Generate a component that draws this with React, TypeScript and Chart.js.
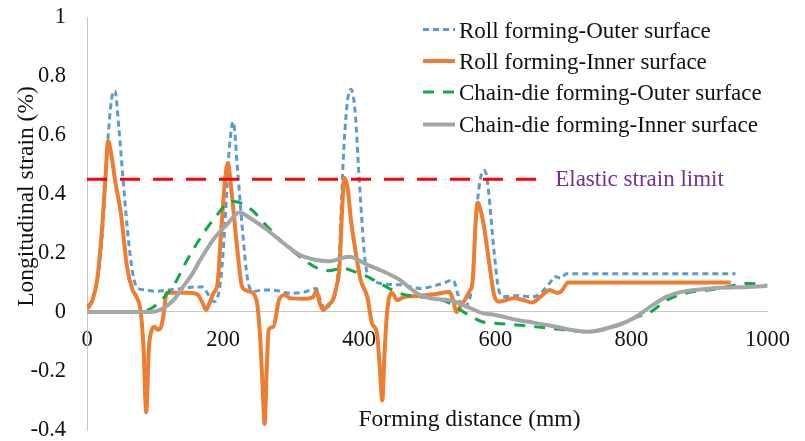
import React, { useEffect, useRef } from "react";
import { Chart, registerables } from "chart.js";

Chart.register(...registerables);

// ---------- data ----------
const seriesNames = [
  "Roll forming-Outer surface",
  "Roll forming-Inner surface",
  "Chain-die forming-Outer surface",
  "Chain-die forming-Inner surface",
];

const rollOuterX = [0, 8, 13, 18, 23, 30, 36, 41, 47, 53, 62, 69, 75, 85, 100, 120, 140, 160, 170, 178, 187, 192, 197, 202, 209, 215, 221, 228, 236, 245, 260, 280, 300, 320, 337, 343, 350, 358, 366, 371, 376, 382, 388, 394, 400, 410, 419, 436, 460, 490, 520, 538, 545, 552, 560, 566, 572, 580, 584, 588, 598, 605, 613, 630, 656, 680, 687, 697, 704, 953];
const rollOuterY = [0.02, 0.04, 0.085, 0.15, 0.28, 0.56, 0.72, 0.75, 0.62, 0.45, 0.22, 0.11, 0.08, 0.075, 0.07, 0.075, 0.08, 0.085, 0.085, 0.06, 0.035, 0.05, 0.12, 0.27, 0.55, 0.645, 0.49, 0.29, 0.11, 0.07, 0.075, 0.072, 0.063, 0.068, 0.08, 0.04, 0.008, 0.03, 0.075, 0.2, 0.49, 0.7, 0.755, 0.68, 0.45, 0.15, 0.11, 0.095, 0.092, 0.08, 0.095, 0.108, 0.06, 0.015, 0.03, 0.1, 0.33, 0.47, 0.48, 0.45, 0.21, 0.075, 0.052, 0.055, 0.052, 0.098, 0.12, 0.115, 0.13, 0.13];

const rollInnerX = [0, 8, 15, 22, 27, 31, 36, 41, 50, 59, 67, 73, 79, 83, 87, 91, 94, 99, 104, 109, 113, 117, 130, 150, 162, 170, 175, 180, 186, 192, 197, 203, 207, 211, 221, 228, 238, 249, 254, 258, 261, 264, 267, 274, 282, 291, 298, 320, 332, 337, 342, 347, 355, 361, 367, 371, 375, 378, 383, 388, 395, 402, 412, 419, 426, 430, 434, 437, 441, 448, 456, 465, 490, 510, 533, 538, 543, 549, 555, 562, 567, 571, 574, 579, 584, 592, 598, 605, 615, 627, 642, 654, 668, 680, 690, 697, 707, 946];
const rollInnerY = [0.01, 0.04, 0.11, 0.28, 0.45, 0.58, 0.53, 0.45, 0.33, 0.15, 0.075, 0.05, 0.0, -0.12, -0.34, -0.12, -0.07, -0.05, -0.06, -0.05, 0.0, 0.065, 0.065, 0.065, 0.06, 0.03, 0.007, 0.03, 0.065, 0.1, 0.27, 0.45, 0.505, 0.44, 0.21, 0.085, 0.07, 0.04, -0.07, -0.25, -0.38, -0.2, -0.06, -0.05, 0.04, 0.058, 0.047, 0.045, 0.05, 0.07, 0.03, 0.007, 0.025, 0.04, 0.09, 0.15, 0.35, 0.455, 0.42, 0.31, 0.2, 0.11, 0.05, -0.04, -0.07, -0.18, -0.3, -0.15, 0.0, 0.065, 0.04, 0.05, 0.055, 0.06, 0.068, 0.04, 0.0, 0.02, 0.04, 0.07, 0.11, 0.3, 0.37, 0.34, 0.28, 0.15, 0.06, 0.035, 0.04, 0.047, 0.04, 0.032, 0.055, 0.075, 0.065, 0.07, 0.1, 0.1];

const chainOuterX = [0, 40, 70, 90, 105, 117, 130, 141, 153, 165, 178, 190, 200, 216, 240, 265, 289, 313, 337, 355, 376, 395, 412, 436, 460, 485, 509, 533, 557, 581, 600, 632, 680, 736, 780, 804, 828, 852, 876, 925, 950, 972, 1000];
const chainOuterY = [0, 0, 0, 0.007, 0.03, 0.06, 0.1, 0.15, 0.2, 0.245, 0.29, 0.325, 0.355, 0.375, 0.35, 0.29, 0.233, 0.187, 0.15, 0.14, 0.148, 0.135, 0.12, 0.09, 0.063, 0.052, 0.047, 0.03, -0.005, -0.033, -0.038, -0.044, -0.055, -0.067, -0.046, -0.02, 0.0, 0.04, 0.062, 0.078, 0.09, 0.097, 0.09];

const chainInnerX = [0, 60, 93, 112, 127, 141, 155, 166, 187, 207, 224, 240, 265, 289, 313, 337, 355, 385, 412, 436, 460, 485, 509, 533, 557, 581, 600, 632, 656, 680, 736, 780, 804, 828, 852, 876, 925, 973, 1000];
const chainInnerY = [0, 0, 0, 0.013, 0.04, 0.085, 0.13, 0.175, 0.25, 0.3, 0.337, 0.318, 0.278, 0.233, 0.193, 0.176, 0.172, 0.187, 0.16, 0.137, 0.108, 0.063, 0.045, 0.04, 0.02, -0.004, -0.01, -0.027, -0.036, -0.046, -0.067, -0.044, -0.02, 0.018, 0.052, 0.069, 0.081, 0.085, 0.088];

const elasticLimitLabel = "Elastic strain limit";
const elasticLimitX = [0, 666];
const elasticLimitY = [0.45, 0.45];

const xTicks = [0, 200, 400, 600, 800, 1000];
const yTicks = [1, 0.8, 0.6, 0.4, 0.2, 0, -0.2, -0.4];
const xTitle = "Forming distance (mm)";
const yTitle = "Longitudinal strain (%)";

// ---------- styles ----------
const FONT = "'Liberation Serif', 'Times New Roman', serif";
const colors = ["#5B9BD5", "#ED7D31", "#10A84A", "#A5A5A5"];
const widths = [3, 4, 3, 4];
const dashes: number[][] = [[6, 4], [], [11, 9], []];

const toPts = (xs: number[], ys: number[]) => xs.map((x, i) => ({ x, y: ys[i] }));

const overlayPlugin = {
  id: "overlay",
  afterDraw(chart: any) {
    const ctx = chart.ctx as CanvasRenderingContext2D;
    const xs = chart.scales.x;
    const ys = chart.scales.y;
    ctx.save();
    // legend
    const lx0 = 423;
    const lx1 = 455;
    const lineY = [29.5, 61, 92, 124.5];
    const baseY = [37.5, 68.5, 100, 131.5];
    ctx.font = `23px ${FONT}`;
    ctx.textBaseline = "alphabetic";
    ctx.textAlign = "left";
    for (let i = 0; i < 4; i++) {
      ctx.beginPath();
      ctx.setLineDash(dashes[i]);
      ctx.strokeStyle = colors[i];
      ctx.lineWidth = widths[i];
      ctx.moveTo(lx0, lineY[i]);
      ctx.lineTo(lx1, lineY[i]);
      ctx.stroke();
      ctx.fillStyle = "#111";
      ctx.fillText(seriesNames[i], lx1 + 4, baseY[i]);
    }
    ctx.setLineDash([]);
    // elastic label
    ctx.fillStyle = "#7030A0";
    ctx.font = `23px ${FONT}`;
    ctx.fillText(
      elasticLimitLabel,
      xs.getPixelForValue(elasticLimitX[1]) + 15,
      ys.getPixelForValue(elasticLimitY[1]) + 6.5
    );
    // axis titles
    ctx.fillStyle = "#111";
    ctx.font = `23.5px ${FONT}`;
    ctx.textAlign = "center";
    ctx.fillText(xTitle, 469.5, 425.5);
    ctx.translate(33, 196.5);
    ctx.rotate(-Math.PI / 2);
    ctx.fillText(yTitle, 0, 0);
    ctx.restore();
  },
};

export default function App() {
  const ref = useRef<HTMLCanvasElement | null>(null);
  useEffect(() => {
    if (!ref.current) return;
    const series = [
      toPts(rollOuterX, rollOuterY),
      toPts(rollInnerX, rollInnerY),
      toPts(chainOuterX, chainOuterY),
      toPts(chainInnerX, chainInnerY),
    ];
    const orders = [4, 3, 2, 1];
    const datasets: any[] = series.map((d, i) => ({
      label: seriesNames[i],
      data: d,
      borderColor: colors[i],
      backgroundColor: colors[i],
      borderWidth: widths[i],
      borderDash: dashes[i],
      pointRadius: 0,
      fill: false,
      cubicInterpolationMode: "monotone",
      order: orders[i],
    }));
    datasets.push({
      label: elasticLimitLabel,
      data: toPts(elasticLimitX, elasticLimitY),
      borderColor: "#FF0000",
      borderWidth: 3,
      borderDash: [20, 13],
      pointRadius: 0,
      fill: false,
      order: 0,
    });
    const chart = new Chart(ref.current, {
      type: "line",
      data: { datasets },
      options: {
        animation: false,
        responsive: false,
        devicePixelRatio: 1,
        layout: { padding: { left: 0, top: 17, right: 28, bottom: 11 } },
        plugins: { legend: { display: false }, tooltip: { enabled: false } },
        scales: {
          x: {
            type: "linear",
            position: { y: 0 } as any,
            min: 0,
            max: 1000,
            afterBuildTicks: (s: any) => {
              s.ticks = xTicks.map((v) => ({ value: v }));
            },
            grid: { display: false, drawTicks: false },
            border: { display: true, color: "#C8C8C8", width: 1 },
            ticks: {
              font: { family: FONT, size: 22.5 },
              color: "#111",
              padding: 15,
              maxRotation: 0,
              autoSkip: false,
              callback: (v: any) => String(v),
            },
          },
          y: {
            type: "linear",
            min: -0.4,
            max: 1,
            afterBuildTicks: (s: any) => {
              s.ticks = yTicks.map((v) => ({ value: v }));
            },
            afterFit: (s: any) => {
              s.width = 87;
              s.paddingTop = 0;
              s.paddingBottom = 0;
            },
            grid: { display: false, drawTicks: false },
            border: { display: true, color: "#C8C8C8", width: 1 },
            ticks: {
              font: { family: FONT, size: 22.5 },
              color: "#111",
              padding: 21,
              autoSkip: false,
              callback: (v: any) => String(Math.round(Number(v) * 10) / 10),
            },
          },
        },
      },
      plugins: [overlayPlugin],
    });
    return () => chart.destroy();
  }, []);
  return (
    <canvas
      ref={ref}
      width={805}
      height={441}
      style={{ position: "absolute", left: 0, top: 0, display: "block" }}
    />
  );
}
